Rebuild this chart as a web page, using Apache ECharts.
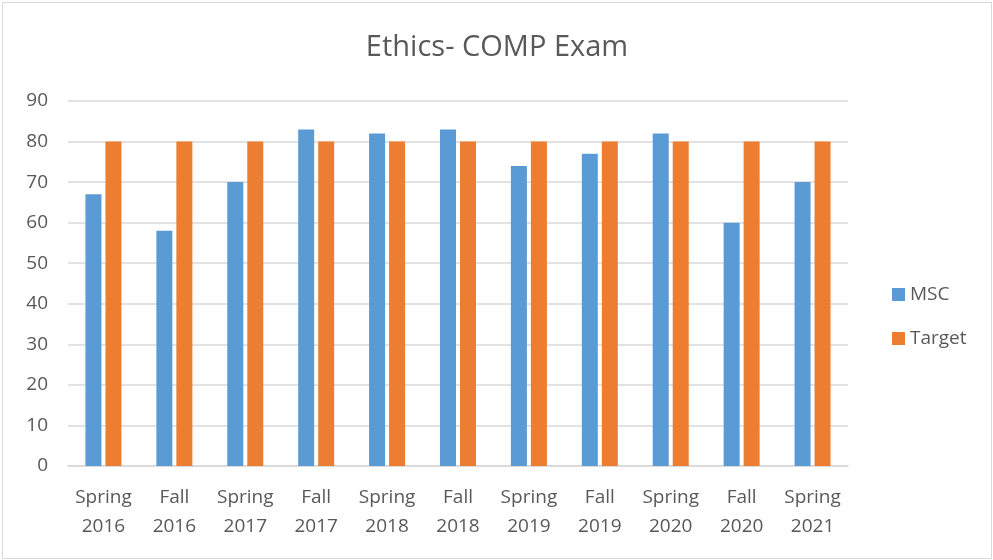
<!DOCTYPE html>
<html>
<head>
<meta charset="utf-8">
<script src="https://cdn.jsdelivr.net/npm/echarts@6/dist/echarts.min.js"></script>
<style>
  html, body { margin: 0; padding: 0; background: #fff; }
  #chart { position: absolute; left: 2px; top: 2px; width: 988px; height: 555px; border: 1px solid #d9d9d9; }
</style>
</head>
<body>
<div id="chart"></div>
<script>
"use strict"
// data
const categories = ['Spring\n2016', 'Fall\n2016', 'Spring\n2017', 'Fall\n2017', 'Spring\n2018', 'Fall\n2018',
    'Spring\n2019', 'Fall\n2019', 'Spring\n2020', 'Fall\n2020', 'Spring\n2021'];
const msc = [67, 58, 70, 83, 82, 83, 74, 77, 82, 60, 70];
const target = [80, 80, 80, 80, 80, 80, 80, 80, 80, 80, 80];

const textFont = '"Open Sans", "Noto Sans", sans-serif';

const chart = echarts.init(document.getElementById('chart'));

const option = {
    animation: false,
    title: {
        text: 'Ethics- COMP Exam',
        left: 'center',
        top: 25,
        textStyle: { fontFamily: textFont, fontSize: 29, fontWeight: 'normal', color: '#595959' }
    },
    legend: {
        orient: 'vertical',
        left: 884,
        top: 277,
        itemWidth: 13,
        itemHeight: 13,
        itemGap: 25,
        icon: 'rect',
        textStyle: { fontFamily: textFont, fontSize: 19, color: '#595959' },
        data: ['MSC', 'Target']
    },
    grid: { left: 65, right: 143, top: 98, bottom: 92 },
    xAxis: {
        type: 'category',
        data: categories,
        axisLine: { lineStyle: { color: '#d9d9d9', width: 1.5 } },
        axisTick: { show: false },
        axisLabel: { interval: 0, fontFamily: textFont, fontSize: 19, color: '#595959', lineHeight: 29, margin: 17 }
    },
    yAxis: {
        type: 'value',
        min: 0,
        max: 90,
        interval: 10,
        axisLine: { show: false },
        axisTick: { show: false },
        axisLabel: { fontFamily: textFont, fontSize: 19, color: '#595959', margin: 20 },
        splitLine: { lineStyle: { color: '#d9d9d9', width: 1.5 } }
    },
    series: [{
        name: 'MSC',
        type: 'bar',
        data: msc,
        barWidth: 16,
        barGap: '25%',
        itemStyle: { color: '#5b9bd5' }
    }, {
        name: 'Target',
        type: 'bar',
        data: target,
        barWidth: 16,
        itemStyle: { color: '#ed7d31' }
    }]
};

chart.setOption(option);
</script>
</body>
</html>
